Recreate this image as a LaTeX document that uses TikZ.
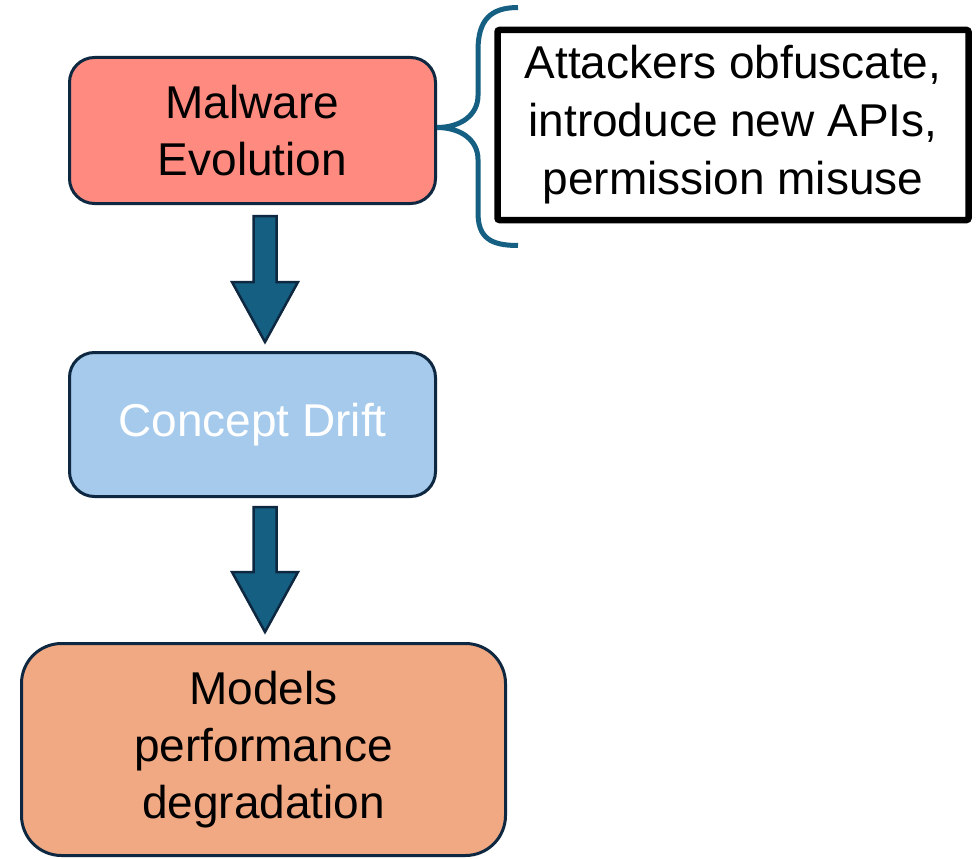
\documentclass[tikz,border=0pt]{standalone}
\usepackage{fontspec}
\setmainfont{Liberation Sans}
\usetikzlibrary{calc}
\definecolor{malred}{HTML}{FF8B80}
\definecolor{cdblue}{HTML}{A6CAEC}
\definecolor{mdorange}{HTML}{F1A983}
\definecolor{navy}{HTML}{0E2841}
\definecolor{teal}{HTML}{156082}
\newcommand\blockarrow[2]{%
  \draw[blockarr] ($(#1)+(-11.5,0)$) -- ($(#1)+(11.5,0)$) -- ($(#2)+(11.5,-60)$) -- ($(#2)+(33,-60)$) -- (#2) -- ($(#2)+(-33,-60)$) -- ($(#2)+(-11.5,-60)$) -- cycle;}
\begin{document}
\begin{tikzpicture}[x=1pt,y=-1pt,
  stage/.style={draw=navy, line width=3pt, rounded corners=25pt, align=center,
    font=\fontsize{46}{57}\selectfont, inner sep=0pt},
  note/.style={draw=black, line width=6.5pt, rounded corners=2pt, align=center,
    font=\fontsize{46}{58}\selectfont, inner sep=0pt, fill=white},
  blockarr/.style={fill=teal, draw=navy, line width=2.5pt, line join=miter},
  brace/.style={draw=teal, line width=5pt}]
\useasboundingbox[fill=white] (0,0) rectangle (980,859);
\node[stage, fill=malred, minimum width=366pt, minimum height=146pt] (mal) at (252.5,130.5) {Malware\\Evolution};
\node[stage, fill=cdblue, text=white, minimum width=366pt, minimum height=144pt] (cd) at (252.5,424.5) {Concept Drift};
\node[stage, fill=mdorange, rounded corners=40pt, minimum width=484pt, minimum height=212pt] (md) at (263.5,749.5) {Models\\performance\\degradation};
\node[note, minimum width=471pt, minimum height=190pt] (txt) at (733,125) {Attackers obfuscate,\\introduce new APIs,\\permission misuse};
\coordinate (a1top) at ($(mal.south)+(12.5,11)$);
\coordinate (a1tip) at ($(cd.north)+(12.5,-9)$);
\coordinate (a2top) at ($(cd.south)+(12.5,9)$);
\coordinate (a2tip) at ($(md.north)+(1.5,-10)$);
\blockarrow{a1top}{a1tip}
\blockarrow{a2top}{a2tip}
\coordinate (bt) at ($(mal.east)+(0,-3)$);
\draw[brace] ($(bt)+(81,-120)$) .. controls ($(bt)+(53,-120)$) and ($(bt)+(41,-107)$) .. ($(bt)+(41,-77)$) -- ($(bt)+(41,-32)$) .. controls ($(bt)+(41,-12)$) and ($(bt)+(23,0)$) .. (bt) .. controls ($(bt)+(23,0)$) and ($(bt)+(41,12)$) .. ($(bt)+(41,32)$) -- ($(bt)+(41,85)$) .. controls ($(bt)+(41,110)$) and ($(bt)+(53,118)$) .. ($(bt)+(81,118)$);
\end{tikzpicture}
\end{document}
